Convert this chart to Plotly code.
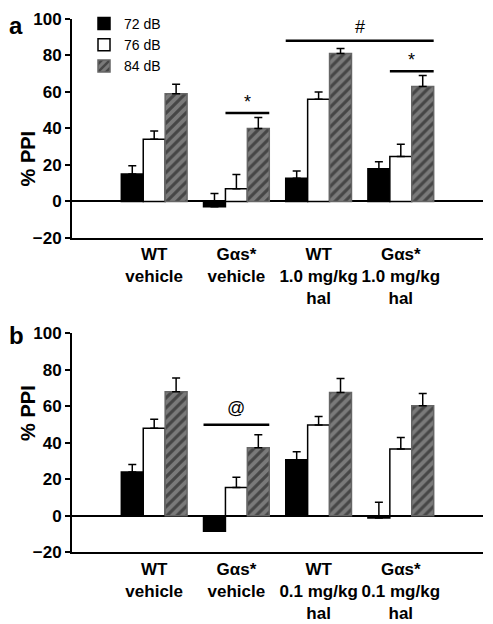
import plotly.graph_objects as go

# ---------------- data ----------------
groups_a = ["WT<br>vehicle", "Gαs*<br>vehicle", "WT<br>1.0 mg/kg<br>hal", "Gαs*<br>1.0 mg/kg<br>hal"]
groups_b = ["WT<br>vehicle", "Gαs*<br>vehicle", "WT<br>0.1 mg/kg<br>hal", "Gαs*<br>0.1 mg/kg<br>hal"]
series_names = ["72 dB", "76 dB", "84 dB"]

a_72 = [15, -3, 12.7, 17.9]
a_76 = [34, 7, 56, 24.6]
a_84 = [59, 40, 81, 63]
a_72_err = [4.5, 7.3, 4.0, 3.8]
a_76_err = [4.6, 7.8, 4.0, 6.7]
a_84_err = [5.2, 6.0, 2.8, 6.0]

b_72 = [24, -8.5, 30.7, -1.2]
b_76 = [48, 15.6, 49.8, 36.7]
b_84 = [68, 37.4, 67.6, 60.4]
b_72_err = [4.2, 0, 4.5, 8.7]
b_76_err = [5.0, 5.6, 4.6, 6.2]
b_84_err = [7.6, 7.0, 7.7, 6.7]

y_ticks = [-20, 0, 20, 40, 60, 80, 100]

# significance markers: (x0, x1, y, label, label_y)
sig_a = [(0.867, 1.4, 48.5, "*", 54.5), (1.6, 3.4, 88, "#", 95.5), (2.867, 3.4, 71.3, "*", 77.3)]
sig_b = [(0.6, 1.4, 50, "@", 59)]

FONT = "Liberation Sans, Arial, sans-serif"
xs = [0, 1, 2, 3]

styles = [
    dict(color="black", line=dict(color="black", width=1.5)),
    dict(color="white", line=dict(color="black", width=1.5)),
    dict(color="#666666", line=dict(color="#666666", width=1.5),
         pattern=dict(shape="/", fgcolor="#111111", bgcolor="#7a7a7a", size=7, solidity=0.45)),
]

fig = go.Figure()
panels = [
    ([a_72, a_76, a_84], [a_72_err, a_76_err, a_84_err], "x", "y", True),
    ([b_72, b_76, b_84], [b_72_err, b_76_err, b_84_err], "x2", "y2", False),
]
for vals, errs, xr, yr, show in panels:
    for i in range(3):
        fig.add_trace(go.Bar(
            x=xs, y=vals[i], name=series_names[i], marker=styles[i],
            showlegend=show, xaxis=xr, yaxis=yr,
            error_y=dict(type="data", symmetric=False, array=errs[i],
                         arrayminus=[0] * 4, color="black", thickness=1.5, width=4),
        ))

# page has an 8px body margin: figure is 485x616 placed at (8, 8)
OFF = 8
W, H = 493 - OFF, 624 - OFF


def px(xp):
    return (xp - OFF) / W


def py(yp):
    return 1 - (yp - OFF) / H


xdom = [px(72), px(483)]
ydom_a = [py(236), py(16)]
ydom_b = [py(552), py(332)]

xcommon = dict(range=[-1, 4], domain=xdom, showline=True, linecolor="black", linewidth=2,
               ticks="", tickvals=xs, showgrid=False, zeroline=False, automargin=False,
               tickfont=dict(family=FONT, size=17, color="black", weight="bold"))
ycommon = dict(range=[-20, 100], tickvals=y_ticks, showline=True, linecolor="black", linewidth=2,
               ticks="outside", ticklen=5, tickwidth=2, tickcolor="black", showgrid=False,
               zeroline=True, zerolinecolor="black", zerolinewidth=1.5, automargin=False,
               tickfont=dict(family=FONT, size=17, color="black", weight="bold"))

fig.update_layout(
    width=W, height=H, margin=dict(l=0, r=0, t=0, b=0, pad=0), autosize=False,
    paper_bgcolor="white", plot_bgcolor="white",
    barmode="group", bargap=0.2, bargroupgap=0,
    xaxis=dict(xcommon, anchor="y", ticktext=groups_a),
    yaxis=dict(ycommon, domain=ydom_a, anchor="x"),
    xaxis2=dict(xcommon, anchor="y2", ticktext=groups_b),
    yaxis2=dict(ycommon, domain=ydom_b, anchor="x2"),
    legend=dict(x=px(84), y=py(5), xanchor="left", yanchor="top",
                bgcolor="rgba(0,0,0,0)", font=dict(family=FONT, size=14, color="black"),
                tracegroupgap=0),
    font=dict(family=FONT, color="black"),
)

shapes = []
annotations = []
for sigs, xr, yr in [(sig_a, "x", "y"), (sig_b, "x2", "y2")]:
    for x0, x1, yv, lab, ly in sigs:
        shapes.append(dict(type="line", xref=xr, yref=yr, x0=x0, x1=x1, y0=yv, y1=yv,
                           line=dict(color="black", width=2.5)))
        annotations.append(dict(xref=xr, yref=yr, x=(x0 + x1) / 2, y=ly, text=lab, showarrow=False,
                                font=dict(family=FONT, size=18, color="black")))

for dom, letter, ly in [(ydom_a, "a", 8), (ydom_b, "b", 320)]:
    annotations.append(dict(xref="paper", yref="paper", x=px(15), y=(dom[0] + dom[1]) / 2,
                            text="<b>% PPI</b>", textangle=-90, showarrow=False,
                            font=dict(family=FONT, size=20, color="black")))
    annotations.append(dict(xref="paper", yref="paper", x=0, y=py(ly),
                            xanchor="left", yanchor="top", borderpad=0,
                            text="<b>" + letter + "</b>", showarrow=False,
                            font=dict(family=FONT, size=24, color="black")))

fig.update_layout(shapes=shapes, annotations=annotations)
fig.write_html("out.html")
